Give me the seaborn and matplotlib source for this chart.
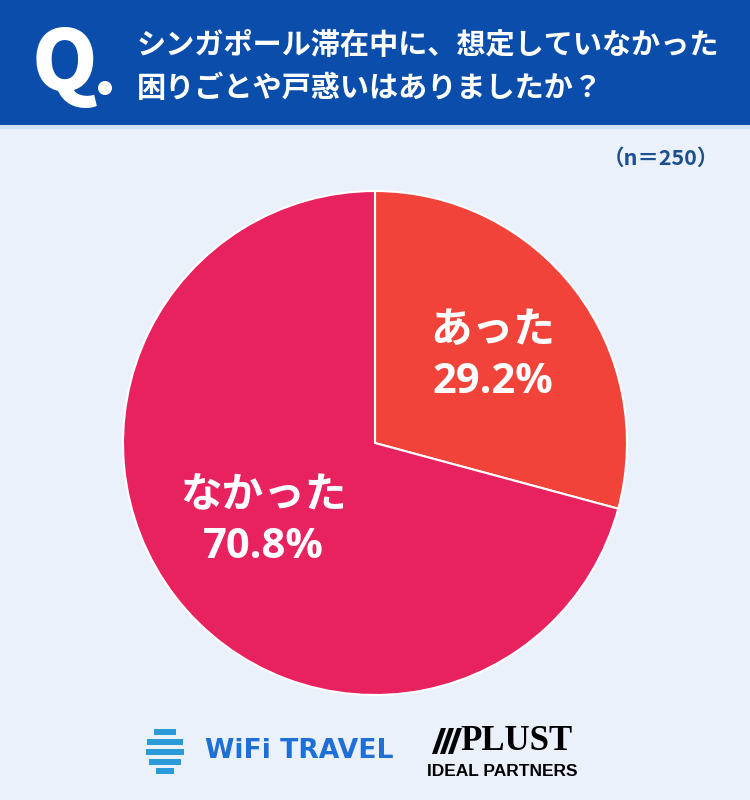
import matplotlib.pyplot as plt
import matplotlib.patches as mpatches
import seaborn as sns

# survey result
labels = ['あった', 'なかった']
shares = [29.2, 70.8]
colors = ['#F1433A', '#E8215F']
title_lines = ['シンガポール滞在中に、想定していなかった', '困りごとや戸惑いはありましたか？']
n_label = '（n＝250）'

sns.set_theme(style='white')
plt.rcParams['font.family'] = ['Noto Sans CJK JP', 'DejaVu Sans']

W, H = 750, 800
fig = plt.figure(figsize=(7.5, 8), dpi=100)
fig.patch.set_facecolor('#EAF1FB')


def fx(px):
    return px / W


def fy(py):
    return 1 - py / H


# header band
fig.patches.append(mpatches.Rectangle((0, fy(125)), 1, 125 / H, transform=fig.transFigure,
                                      facecolor='#0B4DAA', edgecolor='none'))
fig.patches.append(mpatches.Rectangle((0, fy(129)), 1, 4 / H, transform=fig.transFigure,
                                      facecolor='#CFE2F6', edgecolor='none'))
fig.text(fx(32), fy(66), 'Q', color='white', fontsize=60, fontweight='heavy',
         ha='left', va='center', family=['Noto Sans CJK JP', 'DejaVu Sans'])
fig.patches.append(mpatches.Ellipse((fx(105), fy(88)), 14 / W, 14 / H, transform=fig.transFigure,
                                    facecolor='white', edgecolor='none'))
fig.text(fx(137), fy(45), title_lines[0], color='white', fontsize=21, fontweight='bold',
         ha='left', va='center')
fig.text(fx(137), fy(88), title_lines[1], color='white', fontsize=21, fontweight='bold',
         ha='left', va='center')
fig.text(fx(719), fy(158), n_label, color='#1D4F8F', fontsize=15.5, fontweight='bold',
         ha='right', va='center')

# pie
cx, cy, r = 375, 443, 252
ax = fig.add_axes([(cx - r) / W, 1 - (cy + r) / H, 2 * r / W, 2 * r / H])
ax.pie(shares, colors=colors, startangle=90, counterclock=False,
       wedgeprops=dict(edgecolor='white', linewidth=1.5))
ax.set_xlim(-1, 1)
ax.set_ylim(-1, 1)
ax.axis('off')

label_pos = [(0.468, 0.345), (-0.444, -0.31)]
for lab, val, (x, y) in zip(labels, shares, label_pos):
    ax.text(x, y + 0.105, lab, color='white', fontsize=30, fontweight='bold',
            ha='center', va='center')
    ax.text(x, y - 0.105, f'{val}%', color='white', fontsize=30, fontweight='bold',
            ha='center', va='center', family=['Open Sans', 'DejaVu Sans'])

# logos (approximated)
gx, gy = 165, 752
for dy, wd in [(-17, 22), (-7, 36), (3, 38), (13, 32), (22, 18)]:
    fig.patches.append(mpatches.FancyBboxPatch((fx(gx - wd / 2), fy(gy + dy)), wd / W, 6 / H,
                                               boxstyle='round,pad=0', transform=fig.transFigure,
                                               facecolor='#2A9BD8', edgecolor='none'))
fig.text(fx(205), fy(751), 'WiFi TRAVEL', color='#1E6FD6', fontsize=19.2, fontweight='heavy',
         ha='left', va='center', family=['DejaVu Sans'])
for k in range(3):
    x0 = 432 + k * 8
    fig.patches.append(mpatches.Polygon([(fx(x0), fy(754)), (fx(x0 + 5), fy(754)),
                                         (fx(x0 + 14), fy(728)), (fx(x0 + 9), fy(728))],
                                        closed=True, transform=fig.transFigure,
                                        facecolor='black', edgecolor='none'))
fig.text(fx(460), fy(742), 'PLUST', color='black', fontsize=25, fontweight='bold',
         ha='left', va='center', family=['Liberation Serif'])
fig.text(fx(427), fy(771), 'IDEAL PARTNERS', color='black', fontsize=12.5, fontweight='bold',
         ha='left', va='center', family=['Liberation Sans Narrow', 'Liberation Sans'])

fig.savefig('out.png', dpi=100, facecolor=fig.get_facecolor())
